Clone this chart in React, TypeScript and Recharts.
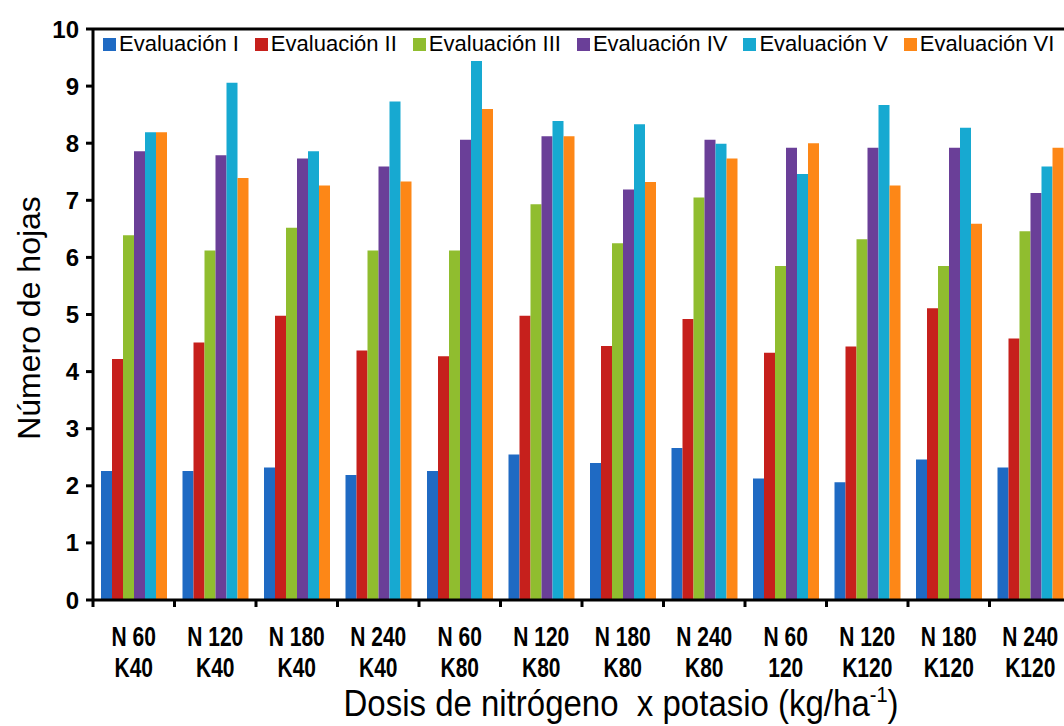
import React from 'react';
import { BarChart, Bar, XAxis, YAxis, Legend, ReferenceLine, Label } from 'recharts';

const categories = [
  'N 60\nK40', 'N 120\nK40', 'N 180\nK40', 'N 240\nK40',
  'N 60\nK80', 'N 120\nK80', 'N 180\nK80', 'N 240\nK80',
  'N 60\n120', 'N 120\nK120', 'N 180\nK120', 'N 240\nK120',
];
const ev1 = [2.26, 2.26, 2.32, 2.19, 2.26, 2.55, 2.40, 2.66, 2.13, 2.06, 2.46, 2.32];
const ev2 = [4.22, 4.51, 4.98, 4.37, 4.27, 4.98, 4.45, 4.92, 4.33, 4.44, 5.11, 4.58];
const ev3 = [6.39, 6.12, 6.52, 6.12, 6.12, 6.93, 6.25, 7.05, 5.85, 6.32, 5.85, 6.46];
const ev4 = [7.86, 7.79, 7.73, 7.59, 8.06, 8.12, 7.19, 8.06, 7.92, 7.92, 7.92, 7.13];
const ev5 = [8.19, 9.06, 7.86, 8.73, 9.44, 8.39, 8.33, 7.99, 7.46, 8.67, 8.27, 7.59];
const ev6 = [8.19, 7.39, 7.26, 7.33, 8.60, 8.12, 7.32, 7.73, 8.00, 7.26, 6.59, 7.92];
const seriesNames = ['Evaluación I', 'Evaluación II', 'Evaluación III', 'Evaluación IV', 'Evaluación V', 'Evaluación VI'];
const seriesColors = ['#1f6ac3', '#c6201c', '#90bd2f', '#6a3f98', '#17a9d1', '#fd8717'];
const yTicks = [0, 1, 2, 3, 4, 5, 6, 7, 8, 9, 10];

const seriesValues = [ev1, ev2, ev3, ev4, ev5, ev6];
const data = categories.map((cat, i) => {
  const row: any = { cat };
  seriesValues.forEach((vals, s) => { row['s' + s] = vals[i]; });
  return row;
});

const FONT = '"Liberation Sans", Arial, Helvetica, sans-serif';

const XTick = (props: any) => {
  const { x, y, payload, index } = props;
  const half = payload && typeof payload.offset === 'number' && payload.offset > 0 ? payload.offset : 40.75;
  const lines = String(payload.value).split('\n');
  const axisY = y - 7;
  return (
    <g>
      <line x1={x + half} x2={x + half} y1={axisY} y2={axisY + 7} stroke="#000" strokeWidth={3} />
      {index === 0 && <line x1={x - half} x2={x - half} y1={axisY} y2={axisY + 7} stroke="#000" strokeWidth={3} />}
      <g transform={`translate(${x},${y}) scale(1,1.3)`}>
        <text textAnchor="middle" fontFamily={FONT} fontWeight="bold" fontSize={21} fill="#000">
          <tspan x={0} y={30}>{lines[0]}</tspan>
          <tspan x={0} y={53.8}>{lines[1]}</tspan>
        </text>
      </g>
    </g>
  );
};

const XTitle = (props: any) => {
  const vb = props.viewBox || { x: 93, y: 600, width: 978, height: 126 };
  const cx = vb.x + vb.width / 2 + 39;
  const by = vb.y + 116;
  return (
    <g transform={`translate(${cx},${by}) scale(1,1.1)`}>
      <text textAnchor="middle" fontFamily={FONT} fontSize={33} fill="#000" style={{ whiteSpace: 'pre' }}>
        {'Dosis de nitrógeno  x potasio (kg/ha'}
        <tspan fontSize={20} dy={-13}>{'-1'}</tspan>
        <tspan dy={13}>{')'}</tspan>
      </text>
    </g>
  );
};

const YTitle = (props: any) => {
  const vb = props.viewBox || { x: 0, y: 29, width: 93, height: 571 };
  const cy = vb.y + vb.height / 2 + 3.5;
  return (
    <text
      transform={`translate(40,${cy}) rotate(-90)`}
      textAnchor="middle"
      fontFamily={FONT}
      fontSize={32}
      fill="#000"
    >
      Número de hojas
    </text>
  );
};

const renderLegend = (props: any) => {
  const { payload } = props;
  return (
    <div style={{ display: 'flex', fontFamily: FONT, fontSize: 22, lineHeight: '22px', color: '#000', whiteSpace: 'nowrap' }}>
      {(payload || []).map((e: any, i: number) => (
        <div key={i} style={{ display: 'flex', alignItems: 'center', marginRight: 16 }}>
          <span style={{ display: 'inline-block', width: 13, height: 13, background: e.color, marginRight: 3 }} />
          <span>{e.value}</span>
        </div>
      ))}
    </div>
  );
};

export default function App() {
  return (
    <div style={{ position: 'absolute', left: 0, top: 0, width: 1064, height: 726, overflow: 'hidden', background: '#fff' }}>
      <BarChart
        width={1080}
        height={726}
        data={data}
        margin={{ top: 29, right: 9, bottom: 0, left: 0 }}
        barCategoryGap={8}
        barGap={0}
      >
        <XAxis
          dataKey="cat"
          height={126}
          interval={0}
          tickLine={false}
          tickSize={7}
          tickMargin={0}
          axisLine={{ stroke: '#000', strokeWidth: 3 }}
          tick={<XTick />}
        >
          <Label content={<XTitle />} />
        </XAxis>
        <YAxis
          width={93}
          domain={[0, 10]}
          ticks={yTicks}
          interval={0}
          tickSize={7}
          tickMargin={7}
          axisLine={{ stroke: '#000', strokeWidth: 3 }}
          tickLine={{ stroke: '#000', strokeWidth: 3 }}
          tick={{ fontFamily: FONT, fontWeight: 'bold', fontSize: 24, fill: '#000' }}
        >
          <Label content={<YTitle />} />
        </YAxis>
        <ReferenceLine y={10} stroke="#000" strokeWidth={3} />
        <Legend
          layout="horizontal"
          verticalAlign="middle"
          align="center"
          content={renderLegend}
          wrapperStyle={{ top: 33, left: 103, width: 980, height: 22 }}
        />
        {seriesNames.map((name, s) => (
          <Bar key={name} dataKey={'s' + s} name={name} fill={seriesColors[s]} isAnimationActive={false} />
        ))}
      </BarChart>
    </div>
  );
}
